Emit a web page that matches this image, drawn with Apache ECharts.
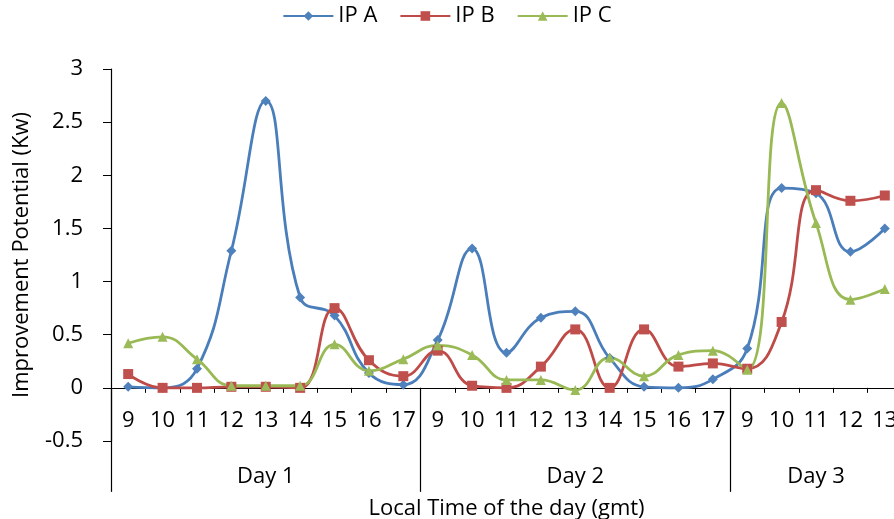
<!DOCTYPE html>
<html>
<head>
<meta charset="utf-8">
<script src="https://cdn.jsdelivr.net/npm/echarts@6/dist/echarts.min.js"></script>
<style>
html,body{margin:0;padding:0;background:#fff;}
#chart{width:894px;height:519px;}
</style>
</head>
<body>
<div id="chart"></div>
<script>
// Category structure
const dayNames = ["Day 1", "Day 2", "Day 3"];
const day1Hours = ["9","10","11","12","13","14","15","16","17"];
const day2Hours = ["9","10","11","12","13","14","15","16","17"];
const day3Hours = ["9","10","11","12","13"];

// Series values (Kw)
const ipA = [0.01, 0.00, 0.18, 1.29, 2.70, 0.85, 0.68, 0.14, 0.03,
             0.45, 1.31, 0.33, 0.66, 0.72, 0.28, 0.01, 0.00, 0.08,
             0.37, 1.88, 1.83, 1.28, 1.50];
const ipB = [0.13, 0.00, 0.00, 0.01, 0.01, 0.00, 0.75, 0.26, 0.11,
             0.35, 0.02, 0.00, 0.20, 0.55, 0.00, 0.55, 0.20, 0.23,
             0.18, 0.62, 1.86, 1.76, 1.81];
const ipC = [0.42, 0.48, 0.27, 0.02, 0.02, 0.02, 0.41, 0.16, 0.27,
             0.40, 0.31, 0.075, 0.075, -0.02, 0.285, 0.11, 0.31, 0.35,
             0.17, 2.68, 1.55, 0.83, 0.93];

// y-axis ticks
const yMin = -0.5, yMax = 3, yStep = 0.5;

const dayHours = [day1Hours, day2Hours, day3Hours];
const catKeys = [];
const catLabel = {};
dayHours.forEach((hrs, d) => hrs.forEach(h => { const k = d + "|" + h; catKeys.push(k); catLabel[k] = h; }));
const total = catKeys.length;
const bounds = [0];
const mids = [];
const midName = {};
dayHours.forEach((hrs, d) => {
  const start = bounds[bounds.length - 1];
  const end = start + hrs.length;
  bounds.push(end);
  mids.push((start + end) / 2);
  midName[(start + end) / 2] = dayNames[d];
});

const FONT = "'Open Sans', sans-serif";
const txt = { color: '#000', fontFamily: FONT, fontSize: 22 };

const gridH = 372;
// x axes sit on the y=0 line: shift up from grid bottom by the pixel span of [yMin, 0]
const zeroOffset = -gridH * (0 - yMin) / (yMax - yMin);

const chart = echarts.init(document.getElementById('chart'), null, { renderer: 'canvas' });
const mk = (name, data, color, lineColor, symbol, size) => ({
  name, type: 'line', data, smooth: 0.45, xAxisIndex: 0, yAxisIndex: 0,
  symbol, symbolSize: size,
  itemStyle: { color },
  lineStyle: { color: lineColor, width: 2.8 },
  emphasis: { disabled: true },
  z: 3
});

chart.setOption({
  animation: false,
  backgroundColor: '#fff',
  legend: {
    top: 0, left: 'center',
    itemWidth: 50, itemHeight: 12, itemGap: 22,
    textStyle: Object.assign({}, txt, { padding: [0, 0, 0, 0] }),
    data: ['IP A', 'IP B', 'IP C']
  },
  grid: { left: 111, top: 69, width: 791, height: gridH, containLabel: false, outerBoundsMode: 'none' },
  xAxis: [
    {
      type: 'category', data: catKeys, position: 'bottom', offset: zeroOffset,
      axisLine: { onZero: false, lineStyle: { color: '#000', width: 1.2 } },
      axisTick: { show: true, length: 5, inside: false, lineStyle: { color: '#000' } },
      axisLabel: Object.assign({}, txt, { interval: 0, margin: 22, formatter: v => catLabel[v] }),
      splitLine: { show: false }
    },
    {
      type: 'value', min: 0, max: total, position: 'bottom', offset: zeroOffset,
      name: 'Local Time of the day (gmt)', nameLocation: 'middle', nameGap: 110,
      nameTextStyle: txt,
      axisLine: { show: false, onZero: false },
      axisTick: { show: true, length: 104, customValues: bounds, lineStyle: { color: '#000', width: 1.2 } },
      axisLabel: Object.assign({}, txt, { margin: 78, customValues: mids, formatter: v => midName[v] || '' }),
      splitLine: { show: false }
    }
  ],
  yAxis: {
    type: 'value', min: yMin, max: yMax, interval: yStep,
    name: 'Improvement Potential (Kw)', nameLocation: 'middle', nameGap: 78,
    nameTextStyle: txt,
    axisLine: { show: true, onZero: false, lineStyle: { color: '#000', width: 1.2 } },
    axisTick: { show: true, length: 8, lineStyle: { color: '#000' } },
    axisLabel: Object.assign({}, txt, { margin: 28 }),
    splitLine: { show: false }
  },
  series: [
    mk('IP A', ipA, '#4F81BD', '#4A7EBB', 'diamond', 10),
    mk('IP B', ipB, '#C0504D', '#BE4B48', 'rect', 10),
    mk('IP C', ipC, '#9BBB59', '#98B954', 'triangle', 10)
  ]
});
</script>
</body>
</html>
